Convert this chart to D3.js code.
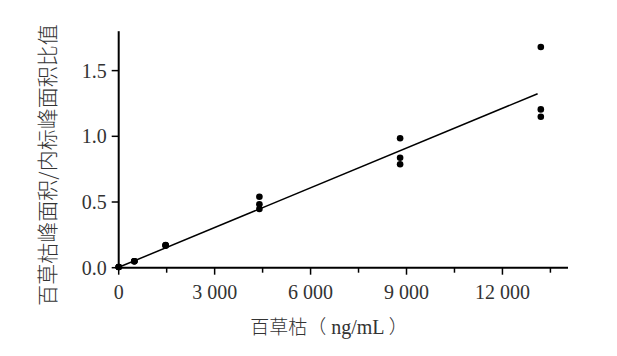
<!DOCTYPE html>
<html>
<head>
<meta charset="utf-8">
<script src="https://cdn.jsdelivr.net/npm/d3@7"></script>
<style>
  body { margin: 0; background: #fff; }
  svg text { fill: #333; }
</style>
</head>
<body>
<svg id="chart" width="617" height="356"></svg>
<script>
// concentration levels (ng/mL) and measured ratios, 3 replicates each
var concentrations = [0, 489, 1467, 4400, 8800, 13200];
var rep1 = [0.005, 0.049, 0.167, 0.540, 0.985, 1.680];
var rep2 = [0.005, 0.049, 0.172, 0.482, 0.837, 1.205];
var rep3 = [0.005, 0.049, 0.170, 0.447, 0.787, 1.149];
var xTicks = [0, 3000, 6000, 9000, 12000];
var yTicks = [0.0, 0.5, 1.0, 1.5];
var fitLine = [[0, 0.003], [13100, 1.324]];

var svg = d3.select("#chart");
var x = d3.scaleLinear().domain([0, 14050]).range([118.7, 568]);
var y = d3.scaleLinear().domain([0, 1.8]).range([267.7, 31.2]);

var serif = "Liberation Serif";
var cjk = "Noto Sans CJK SC";

// x axis with minor ticks
var xAxis = svg.append("g").attr("transform", "translate(0," + y(0) + ")");
xAxis.append("line").attr("x1", x(0)).attr("x2", x(14050)).attr("stroke", "#000").attr("stroke-width", 2);
xAxis.selectAll(".minor").data(d3.range(1500, 14000, 3000)).enter().append("line")
  .attr("x1", function(d){ return x(d); }).attr("x2", function(d){ return x(d); })
  .attr("y1", 0).attr("y2", 5).attr("stroke", "#000").attr("stroke-width", 1.5);
xAxis.selectAll(".major").data(xTicks).enter().append("line")
  .attr("x1", function(d){ return x(d); }).attr("x2", function(d){ return x(d); })
  .attr("y1", 0).attr("y2", 7).attr("stroke", "#000").attr("stroke-width", 1.5);
xAxis.selectAll("text").data(xTicks).enter().append("text")
  .attr("x", function(d){ return x(d); }).attr("y", 31)
  .attr("text-anchor", "middle")
  .attr("font-family", serif).attr("font-size", 20)
  .text(function(d){ return d === 0 ? "0" : d3.format(",")(d).replace(",", " "); });

// y axis
var yAxis = svg.append("g").attr("transform", "translate(" + x(0) + ",0)");
yAxis.append("line").attr("y1", y(0)).attr("y2", y(1.8)).attr("stroke", "#000").attr("stroke-width", 2);
yAxis.selectAll(".major").data(yTicks).enter().append("line")
  .attr("y1", function(d){ return y(d); }).attr("y2", function(d){ return y(d); })
  .attr("x1", -7).attr("x2", 0).attr("stroke", "#000").attr("stroke-width", 1.5);
yAxis.selectAll("text").data(yTicks).enter().append("text")
  .attr("x", -12).attr("y", function(d){ return y(d) + 7; })
  .attr("text-anchor", "end")
  .attr("font-family", serif).attr("font-size", 20)
  .text(function(d){ return d3.format(".1f")(d); });

// fitted line
svg.append("path")
  .datum(fitLine)
  .attr("d", d3.line().x(function(d){ return x(d[0]); }).y(function(d){ return y(d[1]); }))
  .attr("stroke", "#000").attr("stroke-width", 1.5).attr("fill", "none");

// points
[rep1, rep2, rep3].forEach(function(series) {
  svg.append("g").selectAll("circle").data(series).enter().append("circle")
    .attr("cx", function(d, i){ return x(concentrations[i]); })
    .attr("cy", function(d){ return y(d); })
    .attr("r", 3.3).attr("fill", "#000");
});

// axis titles
var xt = svg.append("text")
  .attr("x", 329).attr("y", 334)
  .attr("text-anchor", "middle")
  .attr("font-size", 19);
xt.append("tspan").attr("font-family", cjk).attr("font-weight", 300).text("百草枯（");
xt.append("tspan").attr("font-family", serif).attr("font-size", 20).text(" ng/mL ");
xt.append("tspan").attr("font-family", cjk).attr("font-weight", 300).text("）");

svg.append("text")
  .attr("transform", "translate(55,165) rotate(-90)")
  .attr("text-anchor", "middle")
  .attr("font-family", cjk).attr("font-size", 21).attr("font-weight", 300)
  .text("百草枯峰面积/内标峰面积比值");
</script>
</body>
</html>
